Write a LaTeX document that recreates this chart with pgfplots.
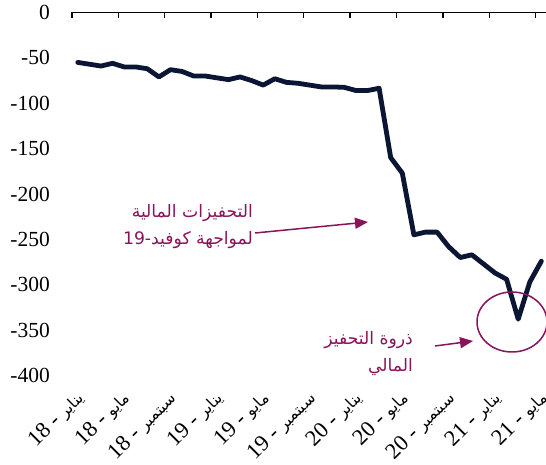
\documentclass[border=0pt]{standalone}
\usepackage{fontspec}
\usepackage{pgfplots}
\pgfplotsset{compat=1.18}
\usetikzlibrary{arrows.meta,calc}
\setmainfont{Liberation Serif}
\newfontfamily\arabicfont[Script=Arabic,Scale=0.8]{DejaVu Sans}
\newfontfamily\arabictick[Script=Arabic,Scale=0.7]{DejaVu Sans}
\TeXXeTstate=1
\definecolor{navyline}{RGB}{10,22,52}
\definecolor{maroonc}{RGB}{137,20,90}
\newcommand{\ar}[1]{{\arabicfont\beginR #1\endR}}
\newcommand{\art}[1]{{\arabictick\beginR #1\endR}}
\begin{document}
\begin{tikzpicture}[x=1bp,y=1bp]
\begin{axis}[scale only axis,
  width=474bp, height=363bp,
  xmin=-0.5, xmax=40.4, ymin=-400, ymax=0,
  axis line style={draw=none}, clip=false,
  xtick={-0.5,3.5,...,39.5}, xtick pos=right, xticklabel pos=left,
  tick align=inside, major tick length=6bp,
  xtick style={black, line width=1.3bp},
  xticklabels={{18 - \art{يناير}},{18 - \art{مايو}},{18 - \art{سبتمبر}},
    {19 - \art{يناير}},{19 - \art{مايو}},{19 - \art{سبتمبر}},
    {20 - \art{يناير}},{20 - \art{مايو}},{20 - \art{سبتمبر}},
    {21 - \art{يناير}},{21 - \art{مايو}}},
  xticklabel style={font=\fontsize{22.5bp}{27bp}\selectfont, xshift=2bp,yshift=-13bp,rotate=45,anchor=north east,inner sep=0pt},
  ytick={-400,-350,...,0},
  yticklabels={-400,-350,-300,-250,-200,-150,-100,-50,0},
  ytick style={draw=none},
  yticklabel style={font=\fontsize{21.5bp}{26bp}\selectfont, inner sep=0pt, xshift=-22bp},
]
\addplot[navyline, line width=4.8bp, line join=round, line cap=round] coordinates {
(0,-55) (1,-57) (2,-59) (3,-56) (4,-60) (5,-60) (6,-62) (7,-71) (8,-63) (9,-65)
(10,-70) (11,-70) (12,-72) (13,-74) (14,-71) (15,-75) (16,-80) (17,-73) (18,-77) (19,-78)
(20,-80) (21,-82) (22,-82) (23,-82.5) (24,-86) (25,-86) (26,-83.5) (27,-160) (28,-177) (29,-245)
(30,-242) (31,-242) (32,-258) (33,-270) (34,-267) (35,-277) (36,-287) (37,-294) (38,-338) (39,-297)
(40,-274)};
\draw[line width=1.3bp] (rel axis cs:0,1) -- (rel axis cs:1,1);
\coordinate (NW) at (rel axis cs:0,1);
\end{axis}
\begin{scope}[shift={($(NW)+(-72,12.5)$)}]
\begin{scope}[maroonc, font=\fontsize{21.5bp}{27bp}\selectfont]
\node[anchor=east, align=right, inner sep=0pt] at (253,-226.5) {\ar{التحفيزات المالية}\\\ar{لمواجهة كوفيد-19}};
\draw[line width=1.5bp, -{Triangle[length=13bp,width=11bp]}] (255,-233) -- (368,-222);
\node[anchor=east, align=right, inner sep=0pt] at (413,-353.5) {\ar{ذروة التحفيز}\\\ar{المالي}};
\draw[line width=1.5bp, -{Triangle[length=13bp,width=11bp]}] (435,-346) -- (473,-341);
\draw[line width=1.5bp] (512,-322) ellipse [x radius=35, y radius=30];
\end{scope}
\pgfresetboundingbox
\path (0,0) rectangle (546,-465);
\end{scope}
\end{tikzpicture}
\end{document}
